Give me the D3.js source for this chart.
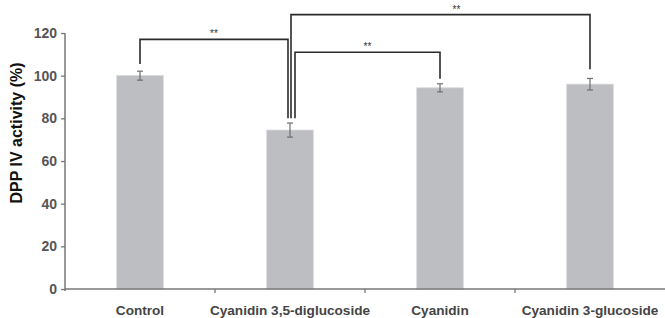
<!DOCTYPE html>
<html>
<head>
<meta charset="utf-8">
<script src="https://cdn.jsdelivr.net/npm/d3@7"></script>
<style>
  body { margin: 0; background: #fff; }
  svg { display: block; font-family: Arial, "Liberation Sans", sans-serif; }
</style>
</head>
<body>
<svg id="chart" width="665" height="318"></svg>
<script>
// values
const categories = ['Control', 'Cyanidin 3,5-diglucoside', 'Cyanidin', 'Cyanidin 3-glucoside'];
const activity = [100, 74.5, 94.3, 96.0];
const errors = [2.1, 3.3, 1.9, 2.7];
const yTicks = [0, 20, 40, 60, 80, 100, 120];

// significance brackets: from, to, top level, left leg bottom, right leg bottom (in % units)
const brackets = [
  { from: 0, to: 1, top: 117, leftEnd: 105.5, rightEnd: 80, label: '**' },
  { from: 1, to: 3, top: 128.6, leftEnd: 80, rightEnd: 103, label: '**' },
  { from: 1, to: 2, top: 111, leftEnd: 80, rightEnd: 98.5, label: '**' }
];

let width = 665;
let height = 318;
let marginLeft = 65;
let plotTop = 33;
let plotBottom = 289;

let svg = d3.select('#chart');

let xScale = d3.scaleBand()
  .domain(categories)
  .range([marginLeft, width])
  .padding(0);

let yScale = d3.scaleLinear()
  .domain([0, 120])
  .range([plotBottom, plotTop]);

let barWidth = xScale.bandwidth() * 0.31;
let center = function(i){ return xScale(categories[i]) + xScale.bandwidth() / 2; };

// bars
svg.selectAll('.bars')
  .data(activity)
  .enter()
  .append('rect')
  .attr('class', 'bars')
  .attr('x', (d, i) => center(i) - barWidth / 2)
  .attr('y', d => yScale(d))
  .attr('width', barWidth)
  .attr('height', d => yScale(0) - yScale(d))
  .attr('fill', '#bdbec2')
  .attr('stroke', '#d4d5d8')
  .attr('stroke-width', 0.8);

// error bars
let errG = svg.append('g').attr('stroke', '#6e6e6e').attr('stroke-width', 1.2);
activity.forEach(function(v, i){
  let cx = center(i);
  let hi = yScale(v + errors[i]);
  let lo = yScale(v - errors[i]);
  errG.append('line').attr('x1', cx).attr('x2', cx).attr('y1', hi).attr('y2', lo);
  errG.append('line').attr('x1', cx - 3).attr('x2', cx + 3).attr('y1', hi).attr('y2', hi);
  errG.append('line').attr('x1', cx - 3).attr('x2', cx + 3).attr('y1', lo).attr('y2', lo);
});

// y axis
let yAxis = d3.axisLeft(yScale)
  .tickValues(yTicks)
  .tickSize(4)
  .tickPadding(4)
  .tickSizeOuter(0);
let yG = svg.append('g')
  .attr('transform', 'translate(' + marginLeft + ',0)')
  .call(yAxis);
yG.select('.domain').attr('stroke', '#777').attr('stroke-width', 1.5)
  .attr('d', 'M0,' + plotTop + 'V' + (plotBottom + 2));
yG.selectAll('.tick line').attr('stroke', '#777').attr('stroke-width', 1.3);
yG.selectAll('.tick text')
  .attr('fill', '#555')
  .style('font-size', '14px')
  .style('font-weight', 'bold');

// x axis - ticks sit at the band boundaries
let xG = svg.append('g').attr('transform', 'translate(0,' + plotBottom + ')');
xG.append('line')
  .attr('x1', marginLeft).attr('x2', width)
  .attr('y1', 0).attr('y2', 0)
  .attr('stroke', '#777').attr('stroke-width', 1.5);
xG.selectAll('.xtick')
  .data(categories.slice(1))
  .enter()
  .append('line')
  .attr('class', 'xtick')
  .attr('x1', d => xScale(d)).attr('x2', d => xScale(d))
  .attr('y1', 0).attr('y2', 4)
  .attr('stroke', '#777').attr('stroke-width', 1.3);
xG.selectAll('.xlabel')
  .data(categories)
  .enter()
  .append('text')
  .attr('class', 'xlabel')
  .attr('x', (d, i) => center(i))
  .attr('y', 26)
  .attr('text-anchor', 'middle')
  .attr('fill', '#444')
  .style('font-size', '13.6px')
  .style('font-weight', 'bold')
  .text(d => d);

// y title
svg.append('text')
  .attr('transform', 'translate(22,' + 133 + ') rotate(-90)')
  .attr('text-anchor', 'middle')
  .attr('fill', '#111')
  .style('font-size', '16px')
  .style('font-weight', 'bold')
  .text('DPP IV activity (%)');

// brackets
let legShift = [-2, 1, 5];   // legs leaving the same bar are spread apart
let starShift = [0, 16, 0];
brackets.forEach(function(b, k){
  let x1 = center(b.from) + (b.from == 1 ? legShift[k] : 0);
  let x2 = center(b.to) + (b.to == 1 ? legShift[k] : 0);
  let yTop = yScale(b.top);
  svg.append('path')
    .attr('d', 'M' + x1 + ',' + yScale(b.leftEnd) + 'V' + yTop + 'H' + x2 + 'V' + yScale(b.rightEnd))
    .attr('fill', 'none')
    .attr('stroke', '#2b2b2b')
    .attr('stroke-width', 1.6);
  svg.append('text')
    .attr('x', (x1 + x2) / 2 + starShift[k])
    .attr('y', yTop - 2)
    .attr('text-anchor', 'middle')
    .attr('fill', '#333')
    .style('font-size', '10px')
    .text(b.label);
});
</script>
</body>
</html>
